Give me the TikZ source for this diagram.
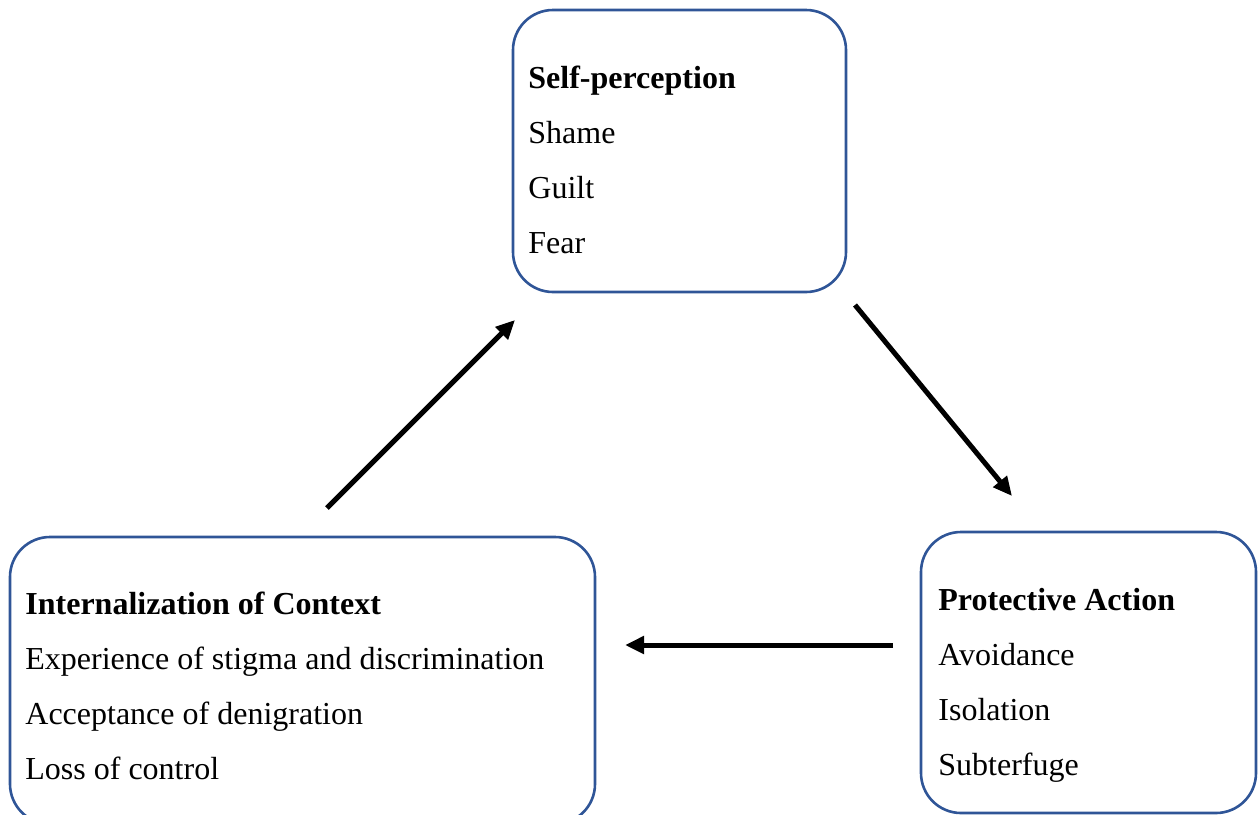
\documentclass[tikz,border=0pt]{standalone}
\usepackage{fontspec}
\setmainfont{Liberation Serif}
\usetikzlibrary{arrows.meta}

\definecolor{boxblue}{RGB}{47,85,151}

\tikzset{
  box/.style={draw=boxblue, line width=1.3pt, rounded corners=20pt},
  boxtext/.style={align=left, inner sep=0pt, anchor=north west,
    font=\fontsize{16}{27.4}\selectfont},
  arrow/.style={line width=2.5pt, -{Triangle[length=9.5pt,width=8.5pt]}}
}

\begin{document}
\begin{tikzpicture}[x=0.5pt,y=-0.5pt]
  \useasboundingbox (0,0) rectangle (1258,814);

  % Draw the three boxes
  \draw[box] (513,10) rectangle (846,292);
  \draw[box] (10,537) rectangle (595,824);
  \draw[box] (921,532) rectangle (1256,813);

  % Texts in the boxes
  \node[boxtext] (self) at (528,66) {\textbf{Self-perception}\\Shame\\Guilt\\Fear};
  \node[boxtext] (context) at (25,592) {\textbf{Internalization of Context}\\Experience of stigma and discrimination\\Acceptance of denigration\\Loss of control};
  \node[boxtext] (action) at (938,588) {\textbf{Protective Action}\\Avoidance\\Isolation\\Subterfuge};

  % Ends of the arrows
  \coordinate (ctxout) at (327,508);
  \coordinate (selfin) at (515,320);
  \coordinate (selfout) at (855,305);
  \coordinate (actin) at (1012,496);
  \coordinate (actout) at (893,645);
  \coordinate (ctxin) at (625,645);

  % Draw the cycle
  \draw[arrow] (ctxout) -- (selfin);
  \draw[arrow] (selfout) -- (actin);
  \draw[arrow] (actout) -- (ctxin);
\end{tikzpicture}
\end{document}
